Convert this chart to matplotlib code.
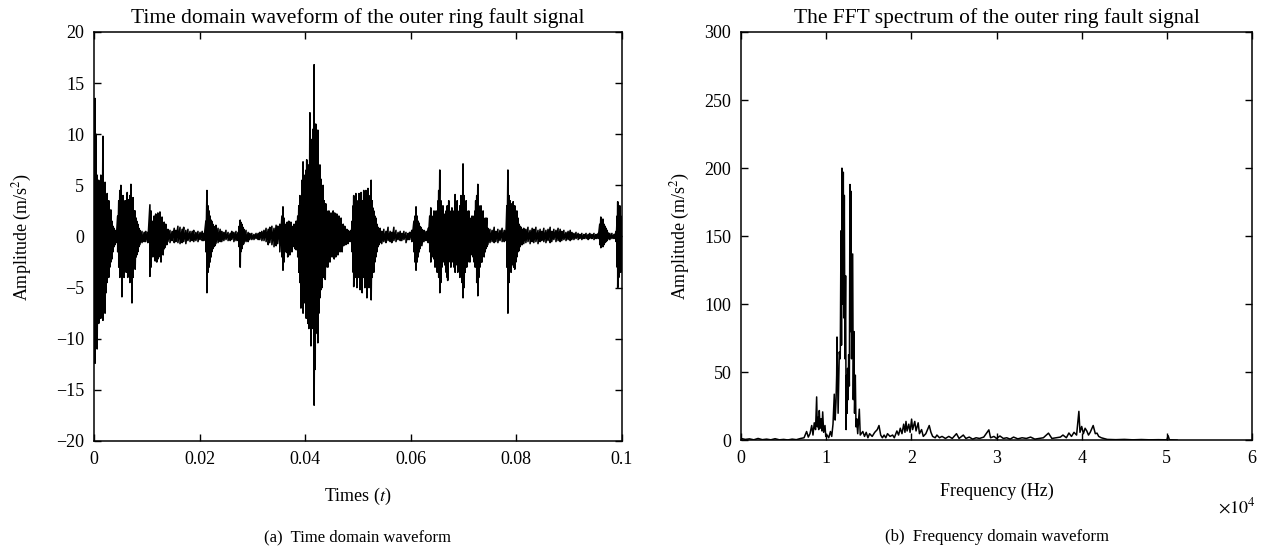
import numpy as np
import matplotlib
matplotlib.use("Agg")
import matplotlib.pyplot as plt
from matplotlib.ticker import FuncFormatter

plt.rcParams['font.family'] = ['Liberation Serif', 'DejaVu Serif']
plt.rcParams['mathtext.fontset'] = 'stix'

# ---------------- data: time-domain envelope ----------------
t_ms = [
    0.0, 0.2, 0.4, 0.6, 0.8, 0.9, 1.1, 1.3, 1.5, 1.7,
    1.9, 2.1, 2.3, 2.5, 2.7, 2.8, 3.0, 3.2, 3.4, 3.6,
    3.8, 4.0, 4.2, 4.5, 4.7, 4.9, 5.1, 5.3, 5.5, 5.7,
    5.9, 6.1, 6.3, 6.4, 6.6, 6.8, 7.0, 7.2, 7.4, 7.6,
    7.8, 8.0, 8.1, 8.3, 8.5, 8.7, 9.1, 9.5, 9.8, 10.2,
    10.6, 10.8, 11.0, 11.2, 11.4, 11.6, 11.7, 11.9, 12.1, 12.3,
    12.5, 12.7, 12.9, 13.1, 13.3, 13.4, 13.6, 13.8, 14.0, 14.4,
    14.8, 15.2, 15.5, 15.9, 16.3, 16.7, 17.0, 17.4, 17.8, 18.2,
    18.6, 18.9, 19.3, 19.7, 20.1, 20.5, 20.8, 21.2, 21.4, 21.6,
    21.8, 22.0, 22.2, 22.3, 22.5, 22.7, 22.9, 23.1, 23.5, 23.9,
    24.2, 24.6, 25.0, 25.4, 25.8, 26.1, 26.5, 26.9, 27.3, 27.5,
    27.7, 27.8, 28.0, 28.2, 28.4, 28.8, 29.2, 29.5, 29.9, 30.3,
    30.7, 31.1, 31.4, 31.8, 32.2, 32.6, 33.0, 33.3, 33.7, 34.1,
    34.5, 34.8, 35.2, 35.6, 35.8, 36.0, 36.2, 36.4, 36.6, 36.7,
    36.9, 37.1, 37.3, 37.5, 37.7, 37.9, 38.1, 38.3, 38.4, 38.6,
    38.8, 39.0, 39.2, 39.4, 39.6, 39.8, 40.0, 40.2, 40.3, 40.5,
    40.7, 40.9, 41.1, 41.3, 41.5, 41.7, 41.9, 42.0, 42.2, 42.4,
    42.6, 42.8, 43.0, 43.2, 43.4, 43.6, 43.8, 43.9, 44.1, 44.3,
    44.5, 44.7, 44.9, 45.1, 45.3, 45.5, 45.6, 45.8, 46.0, 46.2,
    46.4, 46.6, 46.8, 47.0, 47.2, 47.3, 47.5, 47.7, 47.9, 48.1,
    48.3, 48.5, 48.7, 48.9, 49.1, 49.2, 49.4, 49.6, 49.8, 50.0,
    50.2, 50.4, 50.6, 50.8, 50.9, 51.1, 51.3, 51.5, 51.7, 51.9,
    52.1, 52.3, 52.5, 52.7, 52.8, 53.0, 53.2, 53.4, 53.6, 53.8,
    54.0, 54.2, 54.5, 54.9, 55.3, 55.7, 56.1, 56.4, 56.8, 57.2,
    57.6, 58.0, 58.3, 58.7, 59.1, 59.5, 59.8, 60.2, 60.6, 60.8,
    61.0, 61.2, 61.4, 61.6, 61.7, 61.9, 62.1, 62.5, 62.9, 63.3,
    63.6, 63.8, 64.0, 64.2, 64.4, 64.6, 64.8, 65.0, 65.2, 65.3,
    65.5, 65.7, 65.9, 66.1, 66.3, 66.5, 66.7, 66.9, 67.0, 67.2,
    67.4, 67.6, 67.8, 68.0, 68.2, 68.4, 68.6, 68.8, 68.9, 69.1,
    69.3, 69.5, 69.7, 69.9, 70.1, 70.3, 70.5, 70.6, 70.8, 71.0,
    71.2, 71.4, 71.6, 71.8, 72.0, 72.2, 72.3, 72.5, 72.7, 72.9,
    73.1, 73.3, 73.5, 73.7, 73.9, 74.1, 74.2, 74.4, 74.6, 75.0,
    75.4, 75.8, 76.1, 76.5, 76.9, 77.3, 77.7, 78.0, 78.2, 78.4,
    78.6, 78.8, 79.0, 79.2, 79.4, 79.5, 79.7, 79.9, 80.1, 80.3,
    80.5, 80.7, 80.9, 81.1, 81.4, 81.8, 82.2, 82.6, 83.0, 83.3,
    83.7, 84.1, 84.5, 84.8, 85.2, 85.6, 86.0, 86.4, 86.7, 87.1,
    87.5, 87.9, 88.3, 88.6, 89.0, 89.4, 89.8, 90.2, 90.5, 90.9,
    91.3, 91.7, 92.0, 92.4, 92.8, 93.2, 93.6, 93.9, 94.3, 94.7,
    95.1, 95.5, 95.8, 96.0, 96.2, 96.4, 96.6, 96.8, 97.0, 97.2,
    97.3, 97.7, 98.1, 98.5, 98.9, 99.1, 99.2, 99.4, 99.6, 99.8,
    100.0,
]
env_upper = [
    6.0, 13.5, 10.0, 6.0, 4.5, 5.5, 4.0, 6.0, 4.5, 9.8,
    3.5, 5.3, 3.0, 4.2, 2.5, 3.5, 2.0, 2.6, 1.5, 1.0,
    0.8, 0.6, 0.5, 2.0, 3.5, 4.5, 5.0, 3.0, 4.0, 2.5,
    3.5, 2.8, 4.3, 3.0, 3.6, 4.0, 5.1, 3.0, 3.8, 2.5,
    2.5, 1.8, 1.5, 1.2, 0.8, 0.6, 0.5, 0.4, 0.5, 0.4,
    3.1, 2.5, 1.5, 1.2, 2.0, 1.5, 2.2, 1.6, 2.3, 1.5,
    2.4, 1.6, 1.9, 1.2, 1.4, 0.9, 1.2, 0.6, 0.7, 0.6,
    0.5, 0.8, 0.6, 1.0, 0.9, 0.7, 0.9, 0.6, 0.7, 0.5,
    0.5, 0.6, 0.4, 0.5, 0.4, 0.5, 0.3, 1.5, 4.5, 3.0,
    2.5, 2.0, 1.6, 1.5, 1.2, 1.0, 0.8, 1.1, 0.8, 0.7,
    0.5, 0.4, 0.6, 0.4, 0.3, 0.5, 0.4, 0.5, 0.4, 1.0,
    1.6, 1.4, 1.2, 0.9, 0.7, 0.6, 0.4, 0.3, 0.3, 0.2,
    0.3, 0.3, 0.4, 0.5, 0.6, 0.8, 0.7, 0.9, 1.0, 0.8,
    1.1, 1.0, 1.2, 2.0, 2.9, 1.8, 1.2, 1.0, 1.4, 1.0,
    1.5, 1.1, 1.4, 1.0, 0.8, 1.2, 0.9, 1.5, 1.2, 2.0,
    3.0, 4.0, 3.5, 5.5, 7.3, 6.0, 5.0, 6.5, 7.5, 6.0,
    7.0, 12.1, 8.0, 9.5, 10.5, 16.8, 9.0, 11.0, 7.5, 10.4,
    6.0, 7.0, 5.6, 4.5, 5.0, 3.5, 3.0, 3.2, 2.5, 2.2,
    2.5, 2.0, 2.3, 1.8, 2.5, 1.6, 2.3, 1.5, 2.2, 1.5,
    2.0, 1.2, 1.8, 1.0, 1.2, 0.8, 1.0, 0.6, 0.7, 0.6,
    0.5, 0.5, 0.6, 1.5, 3.0, 4.0, 3.0, 4.2, 3.5, 2.8,
    4.2, 3.6, 4.3, 3.5, 2.8, 4.5, 3.5, 4.5, 3.0, 4.7,
    3.5, 4.0, 5.5, 3.5, 2.8, 2.5, 2.0, 1.8, 1.2, 0.9,
    0.6, 0.8, 0.5, 0.7, 0.5, 0.9, 0.5, 0.4, 0.9, 0.6,
    0.4, 0.5, 0.3, 0.5, 0.4, 0.3, 0.4, 0.6, 1.5, 2.0,
    2.9, 2.0, 1.5, 1.3, 1.0, 0.9, 0.7, 0.6, 0.5, 0.8,
    2.0, 2.8, 2.0, 1.5, 2.5, 1.8, 2.5, 1.8, 3.5, 4.5,
    6.5, 3.5, 2.5, 3.0, 2.2, 1.8, 2.5, 3.0, 2.0, 3.5,
    2.5, 2.0, 2.8, 2.0, 2.5, 4.1, 3.0, 3.5, 2.5, 2.0,
    3.0, 4.0, 3.5, 7.1, 4.0, 3.0, 3.5, 2.5, 2.0, 2.5,
    1.8, 1.5, 2.0, 1.5, 2.0, 2.5, 3.5, 4.0, 5.1, 3.0,
    2.5, 3.0, 2.0, 2.5, 1.5, 1.8, 1.2, 1.8, 0.8, 0.7,
    0.6, 0.9, 0.5, 0.7, 0.6, 0.8, 0.6, 0.5, 3.0, 6.5,
    4.0, 3.5, 3.2, 2.8, 3.4, 2.5, 3.0, 2.0, 2.5, 1.8,
    1.2, 1.0, 0.9, 0.7, 0.8, 0.7, 0.9, 0.6, 0.8, 0.7,
    0.9, 0.6, 0.7, 0.5, 0.8, 0.6, 0.7, 0.9, 0.5, 0.7,
    0.6, 0.8, 0.7, 0.5, 0.6, 0.4, 0.5, 0.6, 0.4, 0.3,
    0.4, 0.3, 0.2, 0.3, 0.2, 0.3, 0.2, 0.3, 0.2, 0.3,
    0.2, 0.3, 1.2, 1.9, 1.5, 1.7, 1.2, 1.0, 0.8, 0.6,
    0.4, 0.3, 0.3, 0.2, 0.5, 2.0, 3.4, 2.5, 3.0, 2.0,
    1.5,
]
env_lower = [
    -5.0, -12.4, -9.0, -11.0, -7.0, -8.5, -6.0, -8.0, -7.0, -8.2,
    -5.0, -7.5, -5.5, -4.5, -3.5, -4.0, -3.0, -2.5, -2.2, -1.5,
    -1.0, -0.8, -0.6, -1.5, -3.0, -4.0, -2.3, -5.9, -3.5, -4.0,
    -3.0, -3.5, -2.5, -4.0, -3.0, -4.5, -3.5, -6.5, -4.0, -3.0,
    -3.2, -2.0, -1.8, -1.5, -1.0, -0.8, -0.6, -0.5, -0.5, -0.6,
    -3.9, -3.0, -2.0, -1.5, -2.0, -2.4, -1.8, -2.5, -2.2, -2.0,
    -1.6, -2.5, -1.5, -1.8, -1.2, -1.1, -0.8, -0.8, -0.5, -0.6,
    -0.4, -0.6, -0.5, -0.6, -0.7, -0.6, -0.5, -0.7, -0.4, -0.5,
    -0.4, -0.5, -0.4, -0.5, -0.3, -0.4, -0.4, -1.5, -5.5, -3.5,
    -3.0, -2.5, -2.0, -1.5, -1.2, -1.0, -0.9, -0.7, -0.6, -0.5,
    -0.5, -0.4, -0.3, -0.4, -0.4, -0.3, -0.5, -0.4, -0.4, -1.0,
    -3.0, -1.5, -1.2, -0.8, -0.7, -0.5, -0.5, -0.3, -0.3, -0.3,
    -0.2, -0.3, -0.3, -0.4, -0.4, -0.5, -0.8, -0.6, -0.8, -1.0,
    -0.9, -0.7, -1.5, -2.0, -3.3, -2.5, -1.5, -1.2, -1.6, -2.0,
    -1.2, -1.8, -1.0, -1.5, -0.9, -1.0, -1.2, -1.3, -1.0, -2.0,
    -3.5, -4.5, -7.0, -5.0, -7.5, -6.5, -5.5, -8.0, -6.5, -8.5,
    -9.0, -7.0, -10.7, -8.0, -9.0, -16.5, -13.0, -9.5, -8.0, -10.4,
    -7.5, -6.0, -5.2, -5.0, -4.0, -3.5, -4.2, -3.0, -2.6, -3.0,
    -2.0, -2.5, -1.8, -2.0, -1.5, -2.2, -1.7, -2.0, -1.5, -1.8,
    -1.2, -1.5, -1.0, -1.5, -0.8, -0.9, -0.7, -0.8, -0.5, -0.7,
    -0.4, -0.5, -0.4, -1.5, -3.5, -4.9, -3.0, -4.0, -5.0, -3.5,
    -4.0, -5.2, -3.5, -5.5, -3.5, -4.0, -5.0, -4.3, -6.0, -4.0,
    -5.0, -3.5, -6.2, -4.0, -3.0, -3.5, -2.5, -2.0, -1.5, -1.0,
    -0.8, -0.6, -0.7, -0.5, -0.6, -0.4, -0.5, -0.6, -0.4, -0.5,
    -0.3, -0.4, -0.4, -0.3, -0.6, -0.3, -0.3, -0.5, -1.5, -2.5,
    -3.3, -2.5, -2.0, -1.5, -1.2, -0.8, -0.9, -0.5, -0.4, -0.6,
    -1.5, -2.5, -1.8, -2.0, -2.2, -3.0, -2.0, -3.5, -2.5, -4.0,
    -5.5, -4.5, -3.0, -2.5, -2.2, -2.8, -3.5, -4.0, -4.3, -2.5,
    -2.0, -3.0, -2.0, -2.5, -3.0, -3.5, -2.5, -2.8, -3.5, -2.5,
    -4.0, -3.0, -4.5, -6.0, -5.0, -3.5, -2.5, -3.0, -2.5, -2.0,
    -2.5, -1.8, -1.5, -2.0, -2.5, -3.0, -2.5, -4.5, -5.8, -4.0,
    -3.0, -2.5, -2.5, -1.8, -2.0, -1.5, -1.2, -1.0, -0.8, -0.6,
    -0.5, -0.6, -0.5, -0.6, -0.4, -0.5, -0.5, -0.4, -3.0, -7.5,
    -4.5, -3.0, -3.5, -2.5, -2.8, -3.0, -3.2, -2.5, -2.0, -1.5,
    -1.4, -1.0, -0.8, -0.8, -0.7, -0.6, -0.5, -0.7, -0.5, -0.6,
    -0.5, -0.7, -0.5, -0.4, -0.5, -0.6, -0.4, -0.6, -0.5, -0.3,
    -0.5, -0.4, -0.5, -0.4, -0.3, -0.4, -0.3, -0.4, -0.3, -0.3,
    -0.2, -0.3, -0.2, -0.3, -0.2, -0.2, -0.3, -0.2, -0.2, -0.3,
    -0.2, -0.2, -0.8, -1.1, -0.9, -1.0, -0.8, -0.6, -0.5, -0.4,
    -0.3, -0.3, -0.2, -0.2, -0.5, -3.0, -5.0, -4.0, -2.5, -3.5,
    -1.5,
]

# ---------------- data: FFT spectrum ----------------
freq_hz = [
    0, 500, 1000, 1500, 2000, 2500, 3000, 3500, 4000, 4500,
    5000, 5500, 6000, 6500, 7000, 7400, 7700, 7900, 8100, 8300,
    8450, 8600, 8750, 8880, 8950, 9050, 9120, 9190, 9280, 9400,
    9500, 9590, 9700, 9860, 9950, 10100, 10300, 10500, 10650, 10800,
    10950, 11050, 11150, 11230, 11270, 11400, 11540, 11650, 11740, 11800,
    11850, 11920, 12010, 12070, 12130, 12200, 12280, 12340, 12400, 12460,
    12520, 12580, 12640, 12720, 12790, 12850, 12910, 12980, 13110, 13180,
    13260, 13330, 13420, 13500, 13580, 13700, 13890, 14000, 14300, 14500,
    14700, 14900, 15100, 15400, 15700, 16000, 16200, 16400, 16600, 16800,
    17000, 17200, 17500, 17800, 18000, 18300, 18500, 18700, 18900, 19100,
    19250, 19370, 19500, 19700, 19850, 20030, 20150, 20400, 20550, 20800,
    20950, 21200, 21400, 21700, 21900, 22100, 22300, 22500, 22800, 23000,
    23300, 23600, 24000, 24400, 24800, 25300, 25600, 26100, 26400, 26800,
    27200, 27600, 28000, 28500, 29100, 29300, 29700, 30000, 30400, 30800,
    31200, 31600, 32000, 32500, 33000, 33500, 34000, 34500, 35000, 35500,
    36100, 36500, 37000, 37500, 37800, 38200, 38500, 38800, 39100, 39400,
    39670, 39800, 40000, 40200, 40400, 40600, 40800, 41000, 41350, 41600,
    41800, 42000, 42300, 42600, 43000, 44000, 45000, 46000, 47000, 48000,
    49000, 50000, 50150, 50300, 51000, 51200,
]
fft_amp = [
    1.5, 0.8, 1.2, 0.5, 1.5, 0.6, 1.0, 0.5, 1.3, 0.5,
    0.8, 0.4, 1.0, 0.6, 1.5, 2.0, 6.6, 2.5, 5.0, 11.0,
    4.0, 13.0, 8.0, 32.0, 10.0, 17.0, 8.0, 22.0, 9.0, 16.0,
    7.0, 21.0, 6.0, 11.0, 3.0, 4.0, 2.0, 6.6, 3.0, 12.0,
    34.0, 15.0, 28.0, 48.0, 76.0, 20.0, 65.0, 60.0, 154.0, 70.0,
    200.0, 100.0, 197.0, 90.0, 180.0, 60.0, 121.0, 8.0, 48.0, 20.0,
    53.0, 30.0, 63.0, 40.0, 188.0, 80.0, 183.0, 60.0, 137.0, 30.0,
    80.0, 20.0, 48.0, 10.0, 16.0, 5.0, 23.0, 4.0, 6.6, 3.0,
    6.0, 2.0, 5.0, 3.0, 6.0, 8.0, 11.0, 4.0, 2.0, 4.0,
    2.0, 5.0, 3.0, 4.0, 2.0, 7.0, 4.0, 9.0, 5.0, 12.0,
    6.0, 14.0, 7.0, 12.0, 6.0, 15.7, 8.0, 14.0, 7.0, 13.0,
    5.0, 8.0, 3.0, 5.0, 8.0, 11.0, 6.0, 3.0, 2.0, 4.0,
    2.0, 3.0, 1.5, 3.0, 1.5, 5.0, 1.5, 4.0, 1.5, 2.5,
    1.0, 2.0, 1.5, 2.5, 7.8, 2.0, 3.0, 1.5, 3.3, 1.5,
    2.0, 1.0, 2.5, 1.2, 2.0, 1.5, 2.5, 1.0, 1.5, 2.0,
    5.4, 1.5, 2.0, 2.5, 4.0, 2.0, 5.5, 3.0, 6.0, 4.0,
    21.4, 6.0, 10.3, 5.0, 9.0, 7.0, 4.0, 6.0, 11.0, 5.0,
    5.4, 3.0, 2.0, 1.5, 0.8, 0.6, 0.8, 0.5, 0.7, 0.5,
    0.6, 0.5, 3.5, 0.5, 0.4, 0.3,
]

time_ticks = [0, 0.02, 0.04, 0.06, 0.08, 0.1]
time_ticklabels = ["0", "0.02", "0.04", "0.06", "0.08", "0.1"]
amp_ticks = [-20, -15, -10, -5, 0, 5, 10, 15, 20]
freq_ticks = [0, 10000, 20000, 30000, 40000, 50000, 60000]
fft_ticks = [0, 50, 100, 150, 200, 250, 300]

# ---------------- figure ----------------
fig = plt.figure(figsize=(12.68, 5.59), dpi=100)
ax1 = fig.add_axes([0.0741, 0.2111, 0.4164, 0.7317])
ax2 = fig.add_axes([0.5844, 0.2120, 0.4030, 0.7308])

FS = 13

# waveform as dense zig-zag between read envelope values
t_s = np.asarray(t_ms) / 1000.0
xs = np.repeat(t_s, 2)
ys = np.column_stack([env_upper, env_lower]).ravel()
ax1.plot(xs, ys, color='black', lw=1.15)
ax1.set_xlim(0, 0.1)
ax1.set_ylim(-20, 20)
ax1.set_xticks(time_ticks)
ax1.set_xticklabels(time_ticklabels)
ax1.set_yticks(amp_ticks)
ax1.set_title("Time domain waveform of the outer ring fault signal", fontsize=15.5, pad=6.5)
ax1.set_xlabel("Times ($t$)", fontsize=FS, labelpad=13)
ax1.set_ylabel("Amplitude (m/s$^2$)", fontsize=FS, labelpad=16)

ax2.plot(freq_hz, fft_amp, color='black', lw=1.1)
ax2.set_xlim(0, 60000)
ax2.set_ylim(0, 300)
ax2.set_xticks(freq_ticks)
ax2.xaxis.set_major_formatter(FuncFormatter(lambda v, p: "%d" % round(v / 1e4)))
ax2.set_yticks(fft_ticks)
ax2.set_title("The FFT spectrum of the outer ring fault signal", fontsize=15.5, pad=6.5)
ax2.set_xlabel("Frequency (Hz)", fontsize=FS, labelpad=11)
ax2.set_ylabel("Amplitude (m/s$^2$)", fontsize=FS, labelpad=9)

for ax in (ax1, ax2):
    ax.tick_params(direction='in', length=5, width=1.0, top=True, right=True,
                   labelsize=FS, pad=7)
    for s in ax.spines.values():
        s.set_linewidth(1.1)

fig.text(1256 / 1268, 1 - 507 / 559, r"$\times 10^4$", fontsize=FS, ha='right', va='center')
fig.text(358 / 1268, 1 - 537 / 559, "(a)  Time domain waveform", fontsize=12, ha='center', va='center')
fig.text(997 / 1268, 1 - 537 / 559, "(b)  Frequency domain waveform", fontsize=12, ha='center', va='center')

fig.savefig("out.png", dpi=100)
